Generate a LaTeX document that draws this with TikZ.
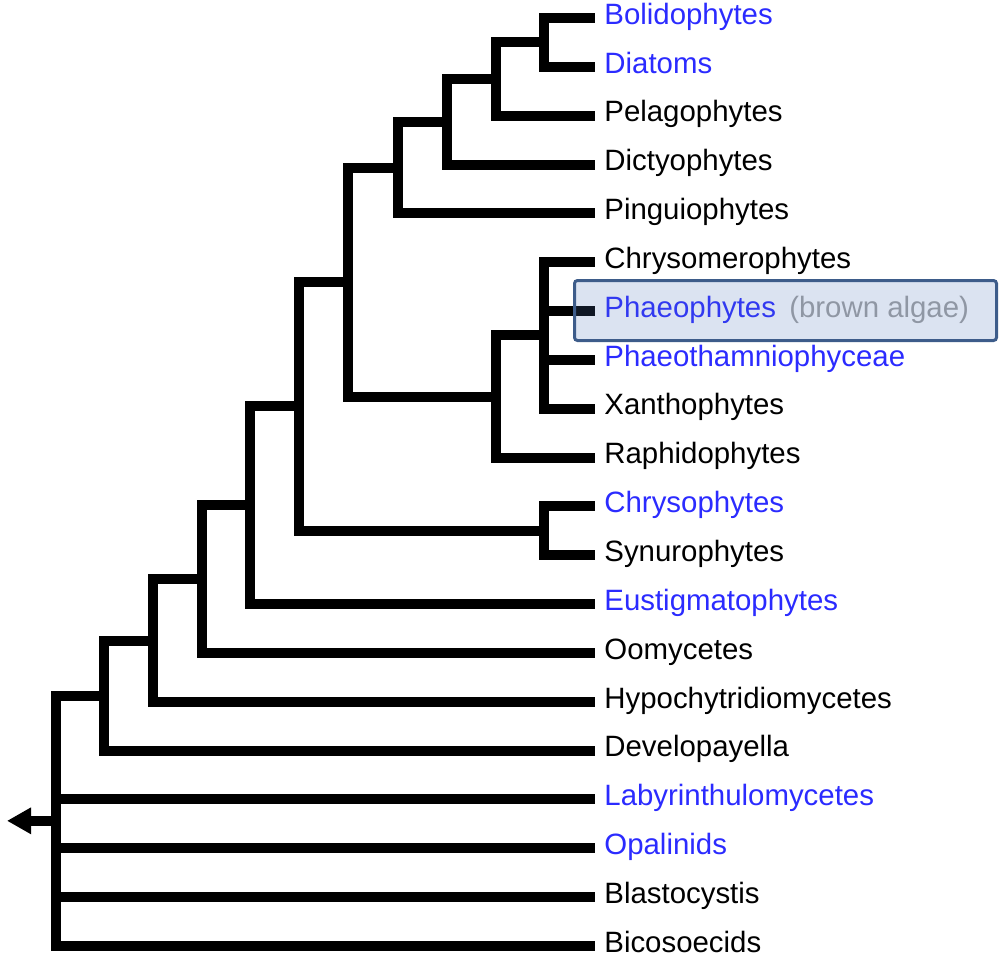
\documentclass[tikz,border=0pt]{standalone}
\usepackage{fontspec}
\setmainfont{Liberation Sans}
\usepackage{xcolor}
\usepackage{tikz}
\usetikzlibrary{arrows.meta, positioning}
\definecolor{taxblue}{HTML}{2B2BFF}
\definecolor{notegray}{HTML}{A0A0A0}
\definecolor{hlborder}{HTML}{3D5C8A}
\definecolor{hlfill}{HTML}{4D73B8}

\begin{document}
\begin{tikzpicture}[
  x=0.5pt, y=-0.5pt,
  leaf/.style={anchor=west, inner xsep=4.5pt, inner ysep=0pt,
    text height=0.62em, text depth=0pt, font=\fontsize{14.7}{17}\selectfont},
  named/.style={leaf, text=taxblue},
  branch/.style={line width=5pt, line join=miter, line cap=butt},
  hlbox/.style={draw=hlborder, line width=1.5pt, fill=hlfill, fill opacity=0.2,
    rounded corners=1.5pt, inner sep=0pt},
]
  \useasboundingbox (0,0) rectangle (999,966);

  \node[named] (bol) at (595,18.0)  {Bolidophytes};
  \node[named] (dia) at (595,66.8)  {Diatoms};
  \node[leaf]  (pel) at (595,115.7) {Pelagophytes};
  \node[leaf]  (dic) at (595,164.5) {Dictyophytes};
  \node[leaf]  (pin) at (595,213.4) {Pinguiophytes};
  \node[leaf]  (chm) at (595,262.2) {Chrysomerophytes};
  \node[named] (pha) at (595,311.0) {Phaeophytes\hspace{0.45em}\textcolor{notegray}{(brown algae)}};
  \node[named] (pht) at (595,359.9) {Phaeothamniophyceae};
  \node[leaf]  (xan) at (595,408.7) {Xanthophytes};
  \node[leaf]  (rap) at (595,457.6) {Raphidophytes};
  \node[named] (chr) at (595,506.4) {Chrysophytes};
  \node[leaf]  (syn) at (595,555.2) {Synurophytes};
  \node[named] (eus) at (595,604.1) {Eustigmatophytes};
  \node[leaf]  (oom) at (595,652.9) {Oomycetes};
  \node[leaf]  (hyp) at (595,701.8) {Hypochytridiomycetes};
  \node[leaf]  (dev) at (595,750.6) {Developayella};
  \node[named] (lab) at (595,799.4) {Labyrinthulomycetes};
  \node[named] (opa) at (595,848.3) {Opalinids};
  \node[leaf]  (bla) at (595,897.1) {Blastocystis};
  \node[leaf]  (bic) at (595,946.0) {Bicosoecids};

  \coordinate (diatomclade)  at (544,42.4);
  \coordinate (pelagoclade)  at (496,79.05);
  \coordinate (dictyoclade)  at (447,121.8);
  \coordinate (pinguiclade)  at (398,167.6);
  \coordinate (phaeoclade)   at (544,335.45);
  \coordinate (raphidoclade) at (496,396.5);
  \coordinate (ochroclade)   at (348,282.05);
  \coordinate (synuroclade)  at (544,530.8);
  \coordinate (chrysoclade)  at (299,406.4);
  \coordinate (eustigclade)  at (250,505.3);
  \coordinate (oomyclade)    at (202,579.1);
  \coordinate (hypoclade)    at (153,640.5);
  \coordinate (develoclade)  at (104,695.5);
  \coordinate (root)         at (56,820.8);
  \coordinate (rootend)      at (7,820.8);

  \draw[branch] (diatomclade) |- (bol) (diatomclade) |- (dia);
  \draw[branch] (pelagoclade) |- (diatomclade) (pelagoclade) |- (pel);
  \draw[branch] (dictyoclade) |- (pelagoclade) (dictyoclade) |- (dic);
  \draw[branch] (pinguiclade) |- (dictyoclade) (pinguiclade) |- (pin);
  \draw[branch] (phaeoclade) |- (chm) (phaeoclade) |- (pha)
                (phaeoclade) |- (pht) (phaeoclade) |- (xan);
  \draw[branch] (raphidoclade) |- (phaeoclade) (raphidoclade) |- (rap);
  \draw[branch] (ochroclade) |- (pinguiclade) (ochroclade) |- (raphidoclade);
  \draw[branch] (synuroclade) |- (chr) (synuroclade) |- (syn);
  \draw[branch] (chrysoclade) |- (ochroclade) (chrysoclade) |- (synuroclade);
  \draw[branch] (eustigclade) |- (chrysoclade) (eustigclade) |- (eus);
  \draw[branch] (oomyclade) |- (eustigclade) (oomyclade) |- (oom);
  \draw[branch] (hypoclade) |- (oomyclade) (hypoclade) |- (hyp);
  \draw[branch] (develoclade) |- (hypoclade) (develoclade) |- (dev);
  \draw[branch] (root) |- (develoclade) (root) |- (lab) (root) |- (opa)
                (root) |- (bla) (root) |- (bic);
  \draw[branch, -{Triangle[length=12pt, width=12.5pt]}] (root) -- (rootend);

  \node[hlbox, minimum width=211pt, minimum height=30pt] (hl) at (785.5,310.5) {};
\end{tikzpicture}
\end{document}
